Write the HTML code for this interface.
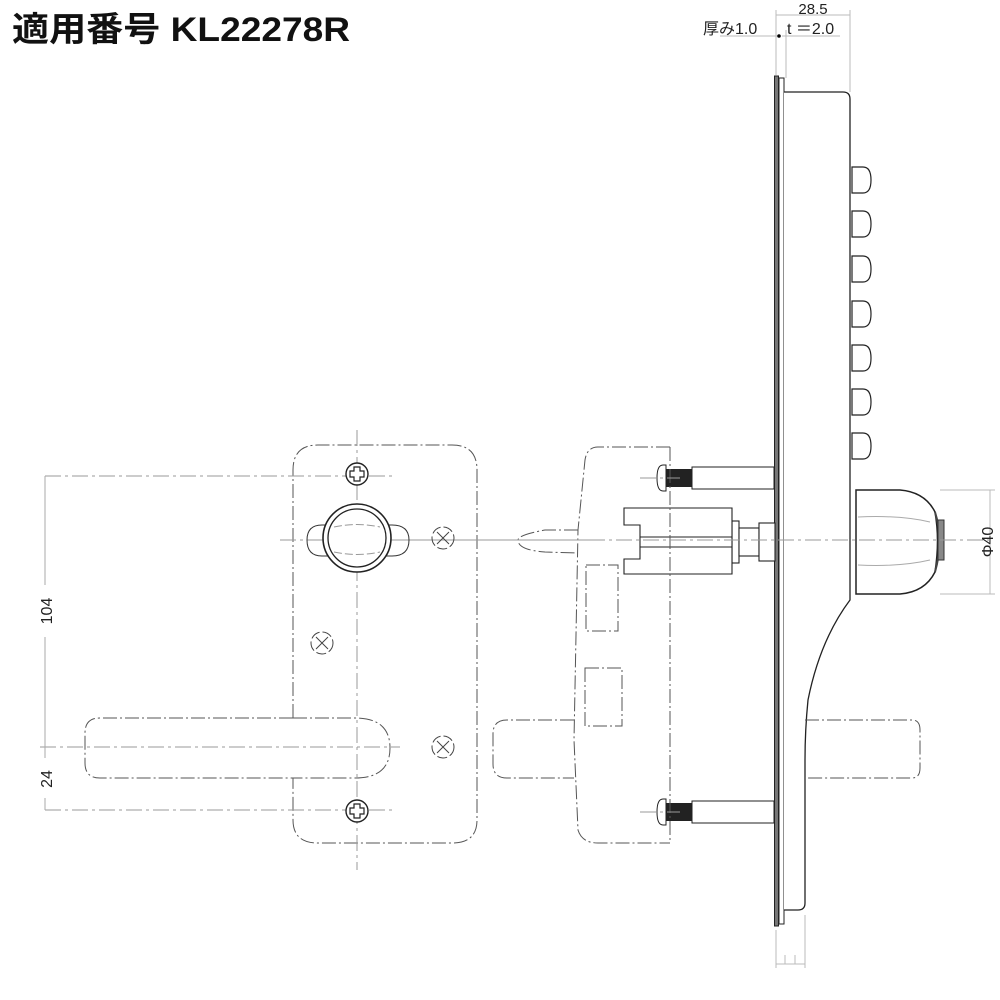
<!DOCTYPE html>
<html><head><meta charset="utf-8"><style>
html,body{margin:0;padding:0;background:#fff}
svg{display:block}
</style></head><body>
<svg width="1000" height="1000" viewBox="0 0 1000 1000" xmlns="http://www.w3.org/2000/svg" font-family="Liberation Sans, Noto Sans CJK JP, sans-serif">
<text x="12" y="41" font-size="34" font-weight="bold" fill="#111" font-family="Liberation Sans, Noto Sans CJK JP, sans-serif" textLength="338" lengthAdjust="spacingAndGlyphs">適用番号 KL22278R</text>

<!-- top dims -->
<g stroke="#bbb" stroke-width="1" fill="none">
<line x1="776" y1="10" x2="776" y2="75"/><line x1="786" y1="30" x2="786" y2="78"/>
<line x1="850" y1="10" x2="850" y2="92"/>
<line x1="776" y1="15" x2="850" y2="15"/>
<line x1="720" y1="36" x2="780" y2="36"/><line x1="782" y1="36" x2="840" y2="36"/>
<line x1="776" y1="930" x2="776" y2="968"/><line x1="805" y1="915" x2="805" y2="968"/>
<line x1="776" y1="964" x2="805" y2="964"/><line x1="785" y1="955" x2="785" y2="964"/><line x1="795" y1="955" x2="795" y2="964"/>
</g>
<circle cx="779" cy="36" r="1.8" fill="#000"/>
<text x="813" y="14" font-size="15" text-anchor="middle" fill="#222">28.5</text>
<text x="703" y="34" font-size="16" fill="#222">厚み1.0</text>
<text x="787" y="34" font-size="16" fill="#222">t ＝2.0</text>

<!-- escutcheon plate -->
<rect x="774.5" y="76" width="4" height="850" fill="#777" stroke="#222" stroke-width="1"/>
<rect x="779" y="78" width="5" height="846" fill="#fff" stroke="#222" stroke-width="1"/>
<path d="M784 92 H843 Q850 92 850 99 V600 Q820 640 808 700 Q805 730 805 760 V903 Q805 910 798 910 H784" fill="#fff" stroke="#222" stroke-width="1.3"/>
<!-- buttons -->
<g fill="#fff" stroke="#222" stroke-width="1.2">
<path d="M852 167 H863 Q871 167 871 180 Q871 193 863 193 H852 Z"/>
<path d="M852 211 H863 Q871 211 871 224 Q871 237 863 237 H852 Z"/>
<path d="M852 256 H863 Q871 256 871 269 Q871 282 863 282 H852 Z"/>
<path d="M852 301 H863 Q871 301 871 314 Q871 327 863 327 H852 Z"/>
<path d="M852 345 H863 Q871 345 871 358 Q871 371 863 371 H852 Z"/>
<path d="M852 389 H863 Q871 389 871 402 Q871 415 863 415 H852 Z"/>
<path d="M852 433 H863 Q871 433 871 446 Q871 459 863 459 H852 Z"/>
</g>
<!-- knob -->
<path d="M856 490 H900 Q925 492 935 512 Q940 540 935 572 Q925 592 900 594 H856 Z" fill="#fff" stroke="#222" stroke-width="1.5"/>
<path d="M935 512 Q944 540 935 572" fill="none" stroke="#444" stroke-width="2"/>
<rect x="938" y="520" width="6" height="40" fill="#888" stroke="#333"/>
<g stroke="#aaa" fill="none"><path d="M858 517 Q900 515 930 522"/><path d="M858 565 Q900 567 930 560"/></g>
<g stroke="#bbb"><line x1="940" y1="490" x2="995" y2="490"/><line x1="940" y1="594" x2="995" y2="594"/><line x1="990" y1="490" x2="990" y2="594"/></g>
<text transform="translate(993,542) rotate(-90)" font-size="16" text-anchor="middle" fill="#222">Φ40</text>

<!-- screws -->
<g>
<rect x="692" y="467" width="82" height="22" fill="#fff" stroke="#222"/>
<rect x="666" y="469" width="26" height="18" fill="#222"/>
<path d="M666 465 H663 Q657 465 657 478 Q657 491 663 491 H666 Z" fill="#fff" stroke="#222"/>
<rect x="692" y="801" width="82" height="22" fill="#fff" stroke="#222"/>
<rect x="666" y="803" width="26" height="18" fill="#222"/>
<path d="M666 799 H663 Q657 799 657 812 Q657 825 663 825 H666 Z" fill="#fff" stroke="#222"/>
</g>
<!-- spindle -->
<g fill="#fff" stroke="#222" stroke-width="1.1">
<rect x="732" y="521" width="7" height="42"/>
<rect x="739" y="528" width="20" height="28"/>
<rect x="759" y="523" width="16" height="38"/>
<path d="M624 508 H732 V574 H624 V559 H640 V525 H624 Z"/>
<line x1="640" y1="537" x2="732" y2="537"/><line x1="640" y1="547" x2="732" y2="547"/>
</g>

<!-- dashed lock body -->
<g fill="none" stroke="#555" stroke-width="1" stroke-dasharray="14 3 2 3">
<path d="M670 447 H598 Q587 447 585 460 L578 530 L574 740 L578 830 Q582 843 598 843 H670"/>
<line x1="670" y1="447" x2="670" y2="843"/>
<path d="M578 530 L545 530 Q518 535 518 540 Q518 550 545 552 L578 553"/>
<rect x="586" y="565" width="32" height="66"/>
<rect x="585" y="668" width="37" height="58"/>
<path d="M574 720 H507 Q493 720 493 734 V764 Q493 778 507 778 H574"/>
<path d="M805 720 H912 Q920 720 920 730 V768 Q920 778 912 778 H805"/>
</g>

<!-- left plate -->
<g fill="none" stroke="#555" stroke-width="1" stroke-dasharray="14 3 2 3">
<path d="M293 718 V470 Q293 445 318 445 H452 Q477 445 477 470 V820 Q477 843 452 843 H318 Q293 843 293 820 V778"/>
<path d="M293 718 H100 Q85 718 85 733 V763 Q85 778 100 778 H293"/>
<path d="M293 718 H355 Q390 718 390 748 Q390 778 355 778 H293"/>
</g>
<g fill="none" stroke="#999" stroke-width="1" stroke-dasharray="16 4 3 4">
<line x1="357" y1="430" x2="357" y2="870"/>
<line x1="40" y1="747" x2="400" y2="747"/>
<line x1="280" y1="540" x2="600" y2="540"/>
<line x1="400" y1="540" x2="990" y2="540"/>
<line x1="45" y1="476" x2="395" y2="476"/>
<line x1="45" y1="810" x2="395" y2="810"/>
<line x1="640" y1="478" x2="680" y2="478"/><line x1="640" y1="812" x2="680" y2="812"/>
</g>
<!-- screws front -->
<g fill="#fff" stroke="#222" stroke-width="1.4">
<circle cx="357" cy="474" r="11"/><circle cx="357" cy="811" r="11"/>
</g>
<g fill="none" stroke="#222" stroke-width="1.2">
<path d="M354 467 h6 v4 h4 v6 h-4 v4 h-6 v-4 h-4 v-6 h4 z"/>
<path d="M354 804 h6 v4 h4 v6 h-4 v4 h-6 v-4 h-4 v-6 h4 z"/>
</g>
<!-- cylinder -->
<path d="M330 525 H322 Q307 525 307 540 Q307 556 322 556 H330 M384 525 H392 Q409 525 409 540 Q409 556 392 556 H384" fill="none" stroke="#333" stroke-width="1"/>
<circle cx="357" cy="538" r="34" fill="#fff" stroke="#222" stroke-width="1.6"/>
<circle cx="357" cy="538" r="29" fill="none" stroke="#222" stroke-width="1.3"/>
<g stroke="#999" fill="none" stroke-dasharray="8 3"><path d="M334 527 Q357 522 380 527"/><path d="M334 552 Q357 557 380 552"/></g>
<!-- x marks -->
<g fill="none" stroke="#444" stroke-width="1">
<circle cx="443" cy="538" r="11" stroke-dasharray="10 3"/><path d="M437 532 l12 12 M449 532 l-12 12"/>
<circle cx="322" cy="643" r="11" stroke-dasharray="10 3"/><path d="M316 637 l12 12 M328 637 l-12 12"/>
<circle cx="443" cy="747" r="11" stroke-dasharray="10 3"/><path d="M437 741 l12 12 M449 741 l-12 12"/>
</g>
<!-- left dims -->
<g stroke="#aaa" fill="none"><line x1="45" y1="476" x2="45" y2="810"/></g>
<rect x="34" y="585" width="22" height="52" fill="#fff"/>
<rect x="34" y="758" width="22" height="40" fill="#fff"/>
<text transform="translate(52,611) rotate(-90)" font-size="16" text-anchor="middle" fill="#222">104</text>
<text transform="translate(52,779) rotate(-90)" font-size="16" text-anchor="middle" fill="#222">24</text>
</svg>
</body></html>
